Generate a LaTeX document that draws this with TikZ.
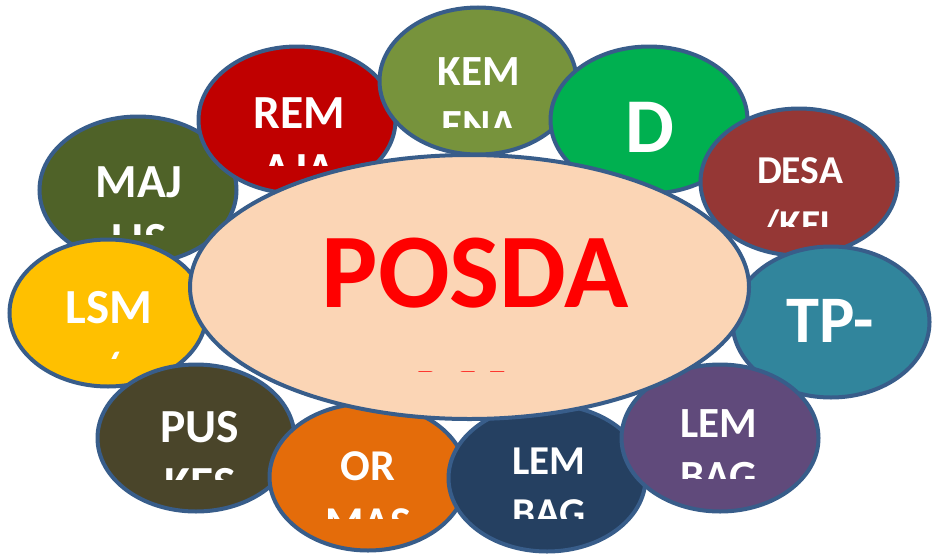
\documentclass[tikz,border=0pt]{standalone}
\usepackage{fontspec}
\setmainfont{Carlito}
\usetikzlibrary{calc}
\usetikzlibrary{shapes.geometric}

\definecolor{bord}{HTML}{385D8A}
\definecolor{centre}{HTML}{FBD5B5}
\definecolor{majlis}{HTML}{4F6228}
\definecolor{remaja}{HTML}{C00000}
\definecolor{kemenag}{HTML}{77933C}
\definecolor{dvert}{HTML}{00B050}
\definecolor{desa}{HTML}{953735}
\definecolor{tppkk}{HTML}{31859C}
\definecolor{lsm}{HTML}{FFC000}
\definecolor{puskes}{HTML}{4A452A}
\definecolor{ormas}{HTML}{E46C0A}
\definecolor{lembaga}{HTML}{254061}
\definecolor{lembagb}{HTML}{604A7B}

\newcommand{\Taille}[1]{\fontsize{#1}{#1}\selectfont\bfseries}

\tikzset{
  bulle/.style={ellipse,draw=bord,line width=4pt,inner sep=0pt,
                minimum width=197pt,minimum height=147pt},
  etiquette/.style={text=white,anchor=base,inner sep=0pt},
}

% ligne de texte coupee par le bas de sa zone
\newcommand{\Coupe}[6]{%
    \begin{scope}
    \clip (#2-150,#3-100) rectangle (#2+150,#4);
    \node[etiquette,font=\Taille{#5}] (#1) at (#2,#3) {#6};
    \end{scope}
}

\begin{document}
\begin{tikzpicture}[x=1pt,y=-1pt]
\useasboundingbox (0,0) rectangle (933,554);

% couronne, dans l'ordre de superposition
\node[bulle,fill=majlis] (majlis) at (138,190) {};
\node[etiquette,font=\Taille{47.5}] (majlis-a) at (139,197) {MAJ};
\Coupe{majlis-b}{139}{255}{234}{47.5}{LIS}

\node[bulle,fill=remaja] (remaja) at (297,120) {};
\node[etiquette,font=\Taille{47.5}] (remaja-a) at (299,128) {REM};
\Coupe{remaja-b}{299}{185}{165}{47.5}{AJA}

\node[bulle,fill=kemenag] (kemenag) at (478,81) {};
\node[etiquette,font=\Taille{43}] (kemenag-a) at (479,85) {KEM};
\Coupe{kemenag-b}{479}{139}{127}{43}{ENA}

\node[bulle,fill=dvert] (dvert) at (649,120) {};
\node[etiquette,font=\Taille{77.5}] (dvert-a) at (650,152) {D};

\node[bulle,fill=desa] (desa) at (799,182) {};
\node[etiquette,font=\Taille{39.5}] (desa-a) at (800,183) {DESA};
\Coupe{desa-b}{800}{237}{226}{39.5}{/KEL}

\node[bulle,fill=tppkk,minimum height=151pt] (tppkk) at (831,322) {};
\node[etiquette,font=\Taille{66.5}] (tppkk-a) at (830,342) {TP-};

\node[bulle,fill=lsm] (lsm) at (108,313) {};
\node[etiquette,font=\Taille{49}] (lsm-a) at (109,323) {LSM};
\Coupe{lsm-b}{109}{386}{358}{49}{/}

\node[bulle,fill=puskes] (puskes) at (196,438) {};
\node[etiquette,font=\Taille{47.5}] (puskes-a) at (200,442) {PUS};
\Coupe{puskes-b}{200}{499}{479}{47.5}{KES}

\node[bulle,fill=ormas] (ormas) at (368,477) {};
\node[etiquette,font=\Taille{44}] (ormas-a) at (368,480) {OR};
\Coupe{ormas-b}{368}{537}{518}{44}{MAS}

\node[bulle,fill=lembaga] (lembaga) at (547,478) {};
\node[etiquette,font=\Taille{41}] (lembaga-a) at (549,474) {LEM};
\Coupe{lembaga-b}{549}{526}{518}{41}{BAG}

\node[bulle,fill=lembagb] (lembagb) at (720,438) {};
\node[etiquette,font=\Taille{43}] (lembagb-a) at (719,437) {LEM};
\Coupe{lembagb-b}{719}{490}{478}{43}{BAG}

% ellipse centrale
\node[bulle,fill=centre,minimum width=559pt,minimum height=264pt] (posdaya) at (469.5,287) {};
\node[etiquette,text=red,font=\Taille{106}] (posdaya-a) at (475,307) {POSDA};
\Coupe{posdaya-b}{475}{440}{371}{106}{\textcolor{red}{YA}}

\end{tikzpicture}
\end{document}
